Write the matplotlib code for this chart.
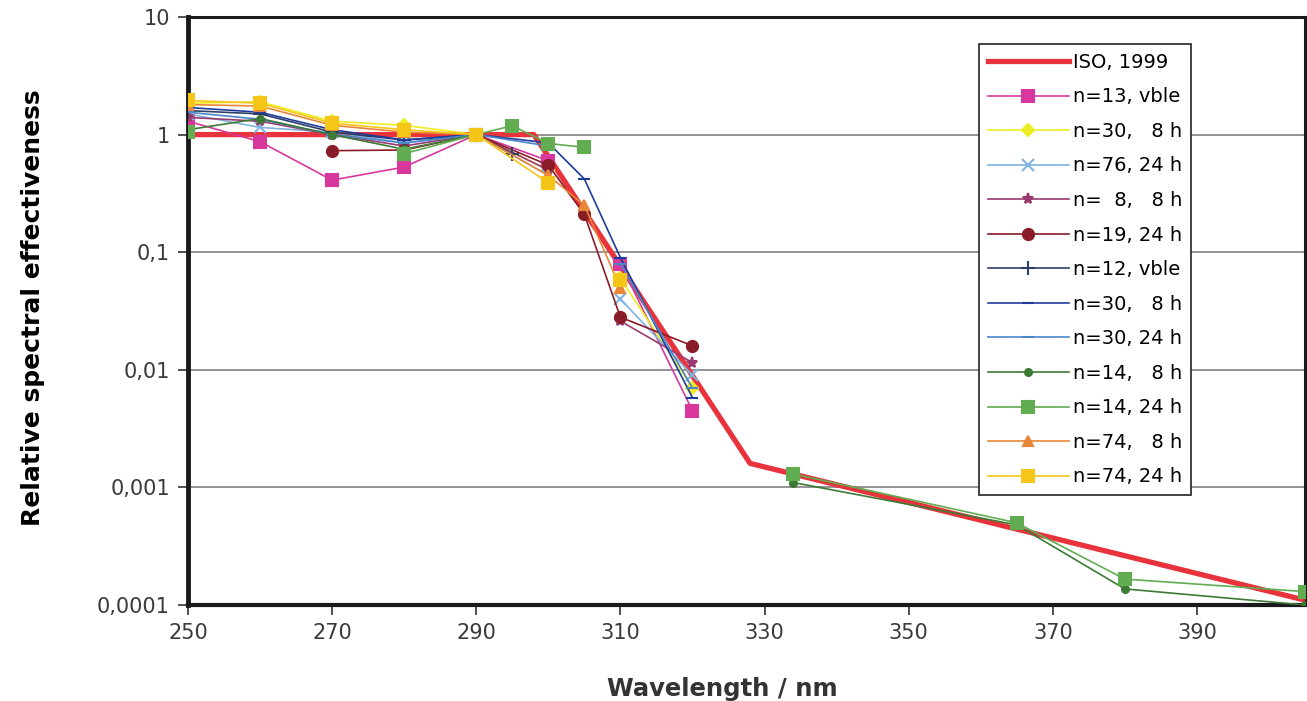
import numpy as np
import matplotlib
matplotlib.use("Agg")
import matplotlib.pyplot as plt
from matplotlib.ticker import FixedLocator, FixedFormatter, NullLocator

nan = np.nan

# ISO 1999 reference spectrum (vertices)
iso_wl = [250, 298, 328, 405]
iso_val = [1.0, 1.0, 0.0016, 0.00011]

# study data, wavelength in nm
wl_a = [250, 260, 270, 280, 290, 300, 305, 310, 320]

n13_vble = [1.3, 0.87, 0.41, 0.53, 1.0, 0.6, nan, 0.08, 0.0045]
n30_8h_y = [1.85, 1.9, 1.3, 1.2, 1.0, 0.5, nan, 0.06, 0.007]
n76_24h = [1.5, 1.15, 1.05, 0.85, 1.0, 0.45, nan, 0.04, 0.009]
n8_8h = [1.4, 1.3, 1.0, 0.8, 1.0, 0.5, nan, 0.026, 0.0115]
n19_24h = [nan, nan, 0.73, 0.74, 1.0, 0.55, 0.21, 0.028, 0.016]
n30_8h_b = [1.7, 1.55, 1.1, 0.9, 1.0, 0.85, 0.42, 0.09, 0.0058]
n30_24h = [1.55, 1.35, 1.0, 0.85, 1.0, 0.8, nan, 0.08, 0.007]
n74_8h = [1.8, 1.75, 1.2, 1.05, 1.0, 0.45, 0.25, 0.05, nan]
n74_24h = [1.95, 1.85, 1.25, 1.1, 1.0, 0.39, nan, 0.058, nan]

wl_b = [250, 260, 270, 280, 290, 295]
n12_vble = [1.6, 1.5, 1.05, 0.9, 1.0, 0.68]

wl_c = [250, 260, 270, 280, 290, 295, 300, 305, 320, 334, 365, 380, 405]
n14_8h = [1.1, 1.37, 1.0, 0.75, 1.0, nan, nan, nan, nan, 0.0011, 0.00048, 0.000137, 0.0001]
n14_24h = [1.05, nan, nan, 0.69, 1.0, 1.19, 0.84, 0.78, nan, 0.0013, 0.0005, 0.000166, 0.00013]

# label, x, y, colour, marker, markersize
series = [
    ("n=13, vble", wl_a, n13_vble, "#d8389c", "s", 9),
    ("n=30,   8 h", wl_a, n30_8h_y, "#eeec22", "D", 6),
    ("n=76, 24 h", wl_a, n76_24h, "#80b4e0", "x", 8),
    ("n=  8,   8 h", wl_a, n8_8h, "#9a3a70", "*", 8),
    ("n=19, 24 h", wl_a, n19_24h, "#8a1c28", "o", 8),
    ("n=12, vble", wl_b, n12_vble, "#2b3f66", "+", 10),
    ("n=30,   8 h", wl_a, n30_8h_b, "#1f3c9a", "_", 9),
    ("n=30, 24 h", wl_a, n30_24h, "#4a86c8", "_", 9),
    ("n=14,   8 h", wl_c, n14_8h, "#3d7a35", "o", 5),
    ("n=14, 24 h", wl_c, n14_24h, "#62ac52", "s", 9),
    ("n=74,   8 h", wl_a, n74_8h, "#e8873a", "^", 7),
    ("n=74, 24 h", wl_a, n74_24h, "#f5c518", "s", 9),
]

fig = plt.figure(figsize=(13.07, 7.01), dpi=100)
ax = fig.add_axes([188 / 1307, 1 - 605 / 701, 1117 / 1307, 588 / 701])

ax.plot(iso_wl, iso_val, color="#e8323c", lw=3.8, label="ISO, 1999", zorder=3)
for lab, x, y, c, m, ms in series:
    ax.plot(x, y, color=c, lw=1.2, marker=m, ms=ms, mfc=c, mec=c, mew=1.5, label=lab, zorder=4)

ax.set_yscale("log")
ax.set_ylim(0.0001, 10)
ax.set_xlim(250, 405)

yt = [0.0001, 0.001, 0.01, 0.1, 1, 10]
ax.yaxis.set_major_locator(FixedLocator(yt))
ax.yaxis.set_major_formatter(FixedFormatter(["0,0001", "0,001", "0,01", "0,1", "1", "10"]))
ax.yaxis.set_minor_locator(NullLocator())
ax.set_xticks(range(250, 391, 20))

for y in [0.001, 0.01, 0.1, 1]:
    ax.axhline(y, color="#8a8a8a", lw=1.3, zorder=1)

for s in ax.spines.values():
    s.set_color("#1a1a1a")
    s.set_linewidth(2.2)
ax.spines["left"].set_linewidth(3.5)
ax.spines["bottom"].set_linewidth(3.0)

ax.tick_params(axis="both", direction="out", length=7, width=1.2, color="#333333",
               labelsize=15, labelcolor="#3a3a3a", pad=6)

ax.set_ylabel("Relative spectral effectiveness", fontsize=18, fontweight="bold")
ax.yaxis.set_label_coords(-0.128, 0.505)
fig.text(0.553, 1 - 689 / 701, "Wavelength / nm", fontsize=17.5, fontweight="bold",
         color="#333333", ha="center", va="center")

leg = ax.legend(loc="upper left", bbox_to_anchor=(0.708, 0.954), fontsize=14, frameon=True,
                fancybox=False, edgecolor="#222222", framealpha=1, handlelength=4.2,
                handletextpad=0.2, labelspacing=0.8, borderpad=0.45, borderaxespad=0)
leg.get_frame().set_linewidth(1.2)

fig.savefig("out.png", dpi=100)
